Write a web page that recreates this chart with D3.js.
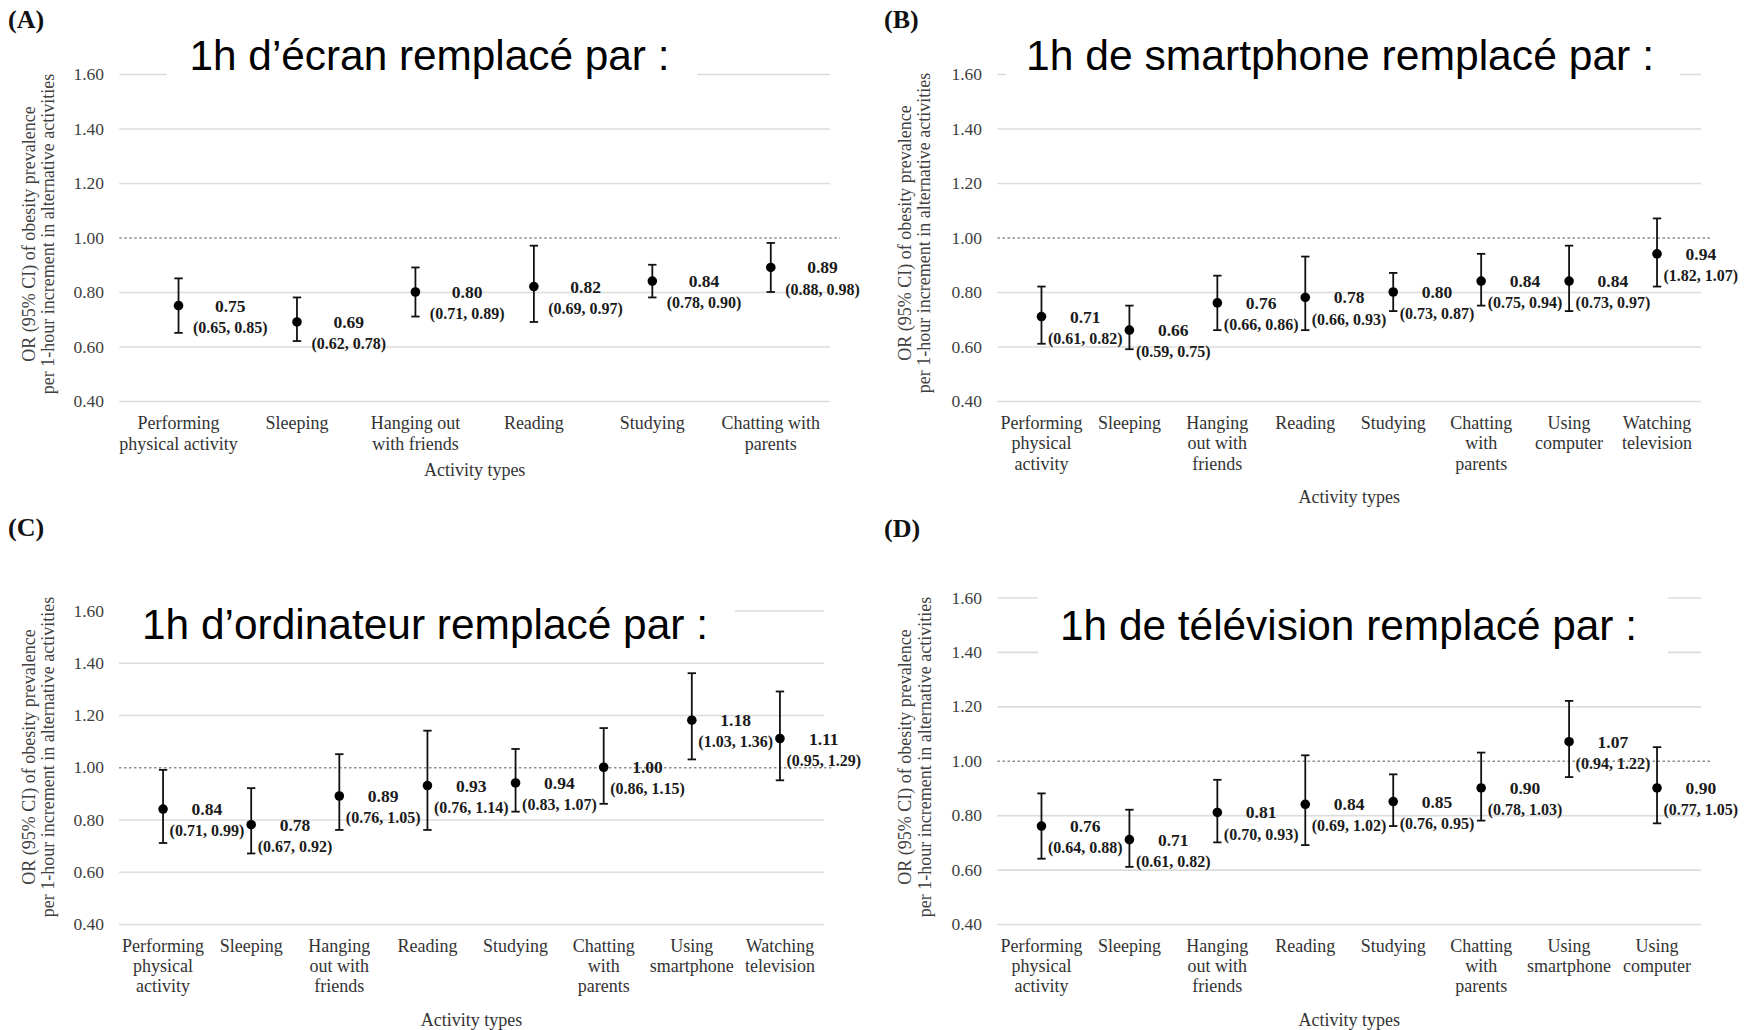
<!DOCTYPE html>
<html>
<head>
<meta charset="utf-8">
<script src="https://cdn.jsdelivr.net/npm/d3@7"></script>
<style>
  body { margin: 0; background: #fff; }
  svg { display: block; }
</style>
</head>
<body>
<svg id="chart" width="1750" height="1030"></svg>
<script>
// Y ticks shared by all four panels
const yTicks = [0.40, 0.60, 0.80, 1.00, 1.20, 1.40, 1.60];

// (A) screen time
const catsA = ["Performing\nphysical activity", "Sleeping", "Hanging out\nwith friends", "Reading", "Studying", "Chatting with\nparents"];
const orA   = [0.75, 0.69, 0.80, 0.82, 0.84, 0.89];
const lowA  = [0.65, 0.62, 0.71, 0.69, 0.78, 0.80];
const highA = [0.85, 0.78, 0.89, 0.97, 0.90, 0.98];
const ciTextA = ["(0.65, 0.85)", "(0.62, 0.78)", "(0.71, 0.89)", "(0.69, 0.97)", "(0.78, 0.90)", "(0.88, 0.98)"];

// (B) smartphone
const catsB = ["Performing\nphysical\nactivity", "Sleeping", "Hanging\nout with\nfriends", "Reading", "Studying", "Chatting\nwith\nparents", "Using\ncomputer", "Watching\ntelevision"];
const orB   = [0.71, 0.66, 0.76, 0.78, 0.80, 0.84, 0.84, 0.94];
const lowB  = [0.61, 0.59, 0.66, 0.66, 0.73, 0.75, 0.73, 0.82];
const highB = [0.82, 0.75, 0.86, 0.93, 0.87, 0.94, 0.97, 1.07];
const ciTextB = ["(0.61, 0.82)", "(0.59, 0.75)", "(0.66, 0.86)", "(0.66, 0.93)", "(0.73, 0.87)", "(0.75, 0.94)", "(0.73, 0.97)", "(1.82, 1.07)"];

// (C) computer
const catsC = ["Performing\nphysical\nactivity", "Sleeping", "Hanging\nout with\nfriends", "Reading", "Studying", "Chatting\nwith\nparents", "Using\nsmartphone", "Watching\ntelevision"];
const orC   = [0.84, 0.78, 0.89, 0.93, 0.94, 1.00, 1.18, 1.11];
const lowC  = [0.71, 0.67, 0.76, 0.76, 0.83, 0.86, 1.03, 0.95];
const highC = [0.99, 0.92, 1.05, 1.14, 1.07, 1.15, 1.36, 1.29];
const ciTextC = ["(0.71, 0.99)", "(0.67, 0.92)", "(0.76, 1.05)", "(0.76, 1.14)", "(0.83, 1.07)", "(0.86, 1.15)", "(1.03, 1.36)", "(0.95, 1.29)"];

// (D) television
const catsD = ["Performing\nphysical\nactivity", "Sleeping", "Hanging\nout with\nfriends", "Reading", "Studying", "Chatting\nwith\nparents", "Using\nsmartphone", "Using\ncomputer"];
const orD   = [0.76, 0.71, 0.81, 0.84, 0.85, 0.90, 1.07, 0.90];
const lowD  = [0.64, 0.61, 0.70, 0.69, 0.76, 0.78, 0.94, 0.77];
const highD = [0.88, 0.82, 0.93, 1.02, 0.95, 1.03, 1.22, 1.05];
const ciTextD = ["(0.64, 0.88)", "(0.61, 0.82)", "(0.70, 0.93)", "(0.69, 1.02)", "(0.76, 0.95)", "(0.78, 1.03)", "(0.94, 1.22)", "(0.77, 1.05)"];

const yTitleLines = ["OR (95% CI) of obesity prevalence", "per 1-hour increment in alternative activities"];
const xTitle = "Activity types";

const panels = [
  { tag: "(A)", title: "1h d\u2019écran remplacé par :", cats: catsA, or: orA, low: lowA, high: highA, ci: ciTextA,
    x0: 119.3, x1: 830, yTop: 74, yBot: 401, tickRight: 104,
    tagX: 8, tagY: 28, titleX: 189.5, titleW: 480, titleY: 70, box: [167, 35, 530, 48],
    yTitleX: [29, 47.5], yTitleY: 234, gap: 14.4, labStep: 20.6, axisTitleY: 470 },
  { tag: "(B)", title: "1h de smartphone remplacé par :", cats: catsB, or: orB, low: lowB, high: highB, ci: ciTextB,
    x0: 997.5, x1: 1701, yTop: 74, yBot: 401, tickRight: 982,
    tagX: 884, tagY: 28, titleX: 1026, titleW: 628, titleY: 70, box: [1006, 35, 674, 48],
    yTitleX: [905, 924], yTitleY: 233, gap: 6.5, labStep: 20.3, axisTitleY: 496.7 },
  { tag: "(C)", title: "1h d\u2019ordinateur remplacé par :", cats: catsC, or: orC, low: lowC, high: highC, ci: ciTextC,
    x0: 119, x1: 824, yTop: 610.5, yBot: 924, tickRight: 104,
    tagX: 8, tagY: 536, titleX: 142, titleW: 566, titleY: 639, box: [112, 592, 623, 60],
    yTitleX: [29, 48], yTitleY: 757, gap: 6.5, labStep: 20, axisTitleY: 1020 },
  { tag: "(D)", title: "1h de télévision remplacé par :", cats: catsD, or: orD, low: lowD, high: highD, ci: ciTextD,
    x0: 997.5, x1: 1701, yTop: 597.5, yBot: 924, tickRight: 982,
    tagX: 884, tagY: 537, titleX: 1060, titleW: 577, titleY: 640, box: [1038, 585, 630, 75],
    yTitleX: [905, 925], yTitleY: 757, gap: 6.5, labStep: 20, axisTitleY: 1020 }
];

const svg = d3.select("#chart");
const serif = "'Liberation Serif', 'Times New Roman', serif";
const sans = "'Liberation Sans', Arial, sans-serif";
const fmt = d3.format(".2f");

panels.forEach(p => {
  const g = svg.append("g");
  const x = d3.scaleBand().domain(p.cats).range([p.x0, p.x1]);
  const y = d3.scaleLinear().domain([0.4, 1.6]).range([p.yBot, p.yTop]);
  const w = p.x1 - p.x0;

  // gridlines + tick labels
  const yAxis = d3.axisLeft(y).tickValues(yTicks).tickFormat(fmt)
    .tickSize(-w).tickPadding(p.x0 - p.tickRight);
  g.append("g").attr("transform", `translate(${p.x0},0)`).call(yAxis)
    .call(s => s.select(".domain").remove())
    .call(s => s.selectAll(".tick line")
      .attr("stroke", d => d === 1.0 ? "#8f8f8f" : "#dcdcdc")
      .attr("stroke-width", d => d === 1.0 ? 1.3 : 1.6)
      .attr("stroke-dasharray", d => d === 1.0 ? "2.5,2.5" : null)
      .attr("x2", d => d === 1.0 ? w + 10 : w))
    .call(s => s.selectAll(".tick text")
      .attr("fill", "#404040").style("font-family", serif).style("font-size", "17.5px"));

  // title on a white panel
  g.append("rect").attr("x", p.box[0]).attr("y", p.box[1])
    .attr("width", p.box[2]).attr("height", p.box[3]).attr("fill", "#fff");
  g.append("text").attr("x", p.titleX).attr("y", p.titleY)
    .attr("textLength", p.titleW).attr("lengthAdjust", "spacingAndGlyphs")
    .style("font-family", sans).style("font-size", "42px").attr("fill", "#000")
    .text(p.title);

  // panel tag
  g.append("text").attr("x", p.tagX).attr("y", p.tagY)
    .style("font-family", serif).style("font-size", "26px").style("font-weight", "bold")
    .attr("fill", "#111").text(p.tag);

  // y-axis title
  const yt = g.append("g");
  yTitleLines.forEach((line, i) => {
    yt.append("text")
      .attr("transform", `translate(${p.yTitleX[i]},${p.yTitleY}) rotate(-90)`)
      .attr("text-anchor", "middle").attr("dominant-baseline", "central")
      .style("font-family", serif).style("font-size", "18px").attr("fill", "#404040")
      .text(line);
  });

  // category labels
  const labY0 = p.yBot + 22;
  p.cats.forEach(c => {
    const t = g.append("text").attr("text-anchor", "middle")
      .style("font-family", serif).style("font-size", "18px").attr("fill", "#333");
    c.split("\n").forEach((part, j) => {
      t.append("tspan").attr("x", x(c) + x.bandwidth() / 2)
        .attr("y", labY0 + j * p.labStep).attr("dominant-baseline", "central").text(part);
    });
  });

  g.append("text").attr("x", (p.x0 + p.x1) / 2).attr("y", p.axisTitleY)
    .attr("text-anchor", "middle").attr("dominant-baseline", "central")
    .style("font-family", serif).style("font-size", "18px").attr("fill", "#333")
    .text(xTitle);

  // error bars, points and value labels
  const rows = p.cats.map((c, i) => ({ c, or: p.or[i], lo: p.low[i], hi: p.high[i], ci: p.ci[i] }));
  const cx = d => x(d.c) + x.bandwidth() / 2;
  const marks = g.append("g");
  marks.selectAll(".bar").data(rows).join("line")
    .attr("x1", cx).attr("x2", cx).attr("y1", d => y(d.lo)).attr("y2", d => y(d.hi))
    .attr("stroke", "#111").attr("stroke-width", 1.8);
  ["lo", "hi"].forEach(k => {
    marks.selectAll(".cap-" + k).data(rows).join("line")
      .attr("x1", d => cx(d) - 4.2).attr("x2", d => cx(d) + 4.2)
      .attr("y1", d => y(d[k])).attr("y2", d => y(d[k]))
      .attr("stroke", "#111").attr("stroke-width", 1.8);
  });
  marks.selectAll("circle").data(rows).join("circle")
    .attr("cx", cx).attr("cy", d => y(d.or)).attr("r", 4.8).attr("fill", "#000");

  rows.forEach(d => {
    const ciT = marks.append("text").attr("x", cx(d) + p.gap).attr("y", y(d.or) + 21.6)
      .attr("dominant-baseline", "central")
      .style("font-family", serif).style("font-size", "16px").style("font-weight", "bold")
      .attr("fill", "#1a1a1a").text(d.ci);
    const wCi = ciT.node().getComputedTextLength();
    marks.append("text").attr("x", cx(d) + p.gap + wCi / 2).attr("y", y(d.or))
      .attr("text-anchor", "middle").attr("dominant-baseline", "central")
      .style("font-family", serif).style("font-size", "17.5px").style("font-weight", "bold")
      .attr("fill", "#1a1a1a").text(fmt(d.or));
  });
});
</script>
</body>
</html>
